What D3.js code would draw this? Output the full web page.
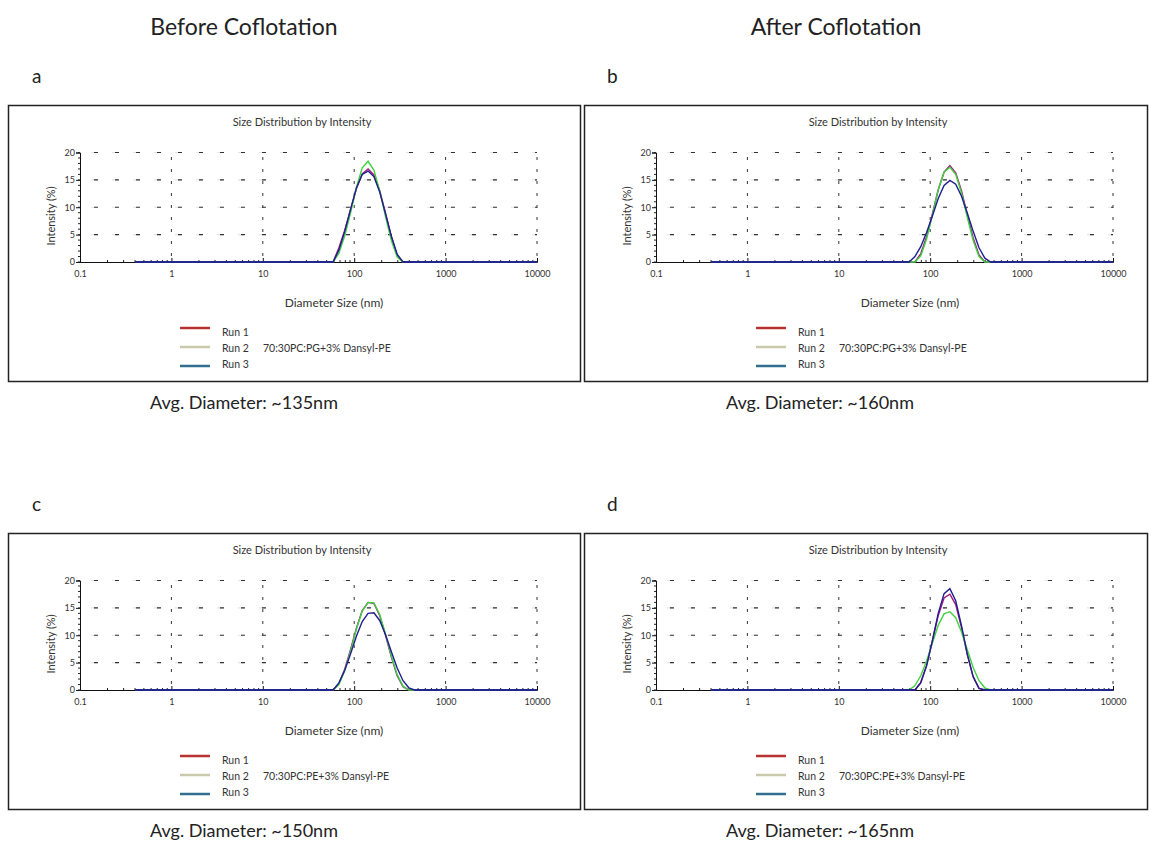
<!DOCTYPE html>
<html>
<head>
<meta charset="utf-8">
<script src="https://cdn.jsdelivr.net/npm/d3@7"></script>
<style>
  body { margin: 0; background: #fff; }
  svg { font-family: Lato, "Open Sans", sans-serif; }
</style>
</head>
<body>
<svg id="chart" width="1149" height="845"></svg>
<script>
// size bins (nm), zero bins kept at both ends for the baseline
var sizes = [0.4, 50.75, 58.77, 68.06, 78.82, 91.28, 105.7, 122.4, 141.8, 164.2, 190.1, 220.2, 255.0, 295.3, 342.0, 396.1, 458.7, 531.2, 10000];

// panel a - before coflotation, PC:PG
var aRun1 = [0, 0, 0, 2.6, 5.8, 9.6, 13.4, 16.1, 17.0, 15.9, 13.0, 8.9, 4.6, 1.2, 0, 0, 0, 0, 0];
var aRun2 = [0, 0, 0, 1.6, 4.8, 9.0, 13.6, 17.2, 18.4, 16.8, 13.0, 8.3, 3.9, 0.9, 0, 0, 0, 0, 0];
var aRun3 = [0, 0, 0, 2.2, 5.6, 9.6, 13.5, 16.0, 16.6, 15.6, 12.8, 8.8, 4.7, 1.4, 0, 0, 0, 0, 0];
// panel b - after coflotation, PC:PG
var bRun1 = [0, 0, 0, 0, 1.5, 4.6, 8.8, 13.2, 16.4, 17.6, 16.3, 13.0, 8.6, 4.4, 1.3, 0, 0, 0, 0];
var bRun2 = [0, 0, 0, 0, 1.1, 4.2, 8.6, 13.2, 16.4, 17.3, 16.0, 12.6, 8.1, 3.9, 1.0, 0, 0, 0, 0];
var bRun3 = [0, 0, 0, 1.0, 2.8, 5.4, 8.4, 11.6, 14.0, 14.9, 14.2, 12.0, 8.9, 5.6, 2.6, 0.7, 0, 0, 0];
// panel c - before coflotation, PC:PE
var cRun1 = [0, 0, 0, 1.2, 3.8, 7.4, 11.3, 14.5, 16.0, 15.8, 13.6, 10.0, 6.0, 2.6, 0.6, 0, 0, 0, 0];
var cRun2 = [0, 0, 0, 1.0, 3.5, 7.1, 11.1, 14.4, 16.0, 15.9, 13.8, 10.2, 6.2, 2.8, 0.7, 0, 0, 0, 0];
var cRun3 = [0, 0, 0, 1.3, 3.6, 6.6, 9.8, 12.5, 14.0, 14.1, 12.7, 10.1, 7.0, 4.0, 1.7, 0.4, 0, 0, 0];
// panel d - after coflotation, PC:PE
var dRun1 = [0, 0, 0, 0, 1.4, 4.5, 9.0, 13.6, 16.8, 17.5, 15.6, 11.4, 6.4, 2.4, 0.3, 0, 0, 0, 0];
var dRun2 = [0, 0, 0, 0.8, 2.6, 5.3, 8.6, 11.8, 13.9, 14.3, 13.2, 10.6, 7.3, 4.1, 1.7, 0.4, 0, 0, 0];
var dRun3 = [0, 0, 0, 0, 1.3, 4.4, 9.0, 14.0, 17.6, 18.5, 16.3, 11.7, 6.5, 2.4, 0.3, 0, 0, 0, 0];

var panelLetters = ["a", "b", "c", "d"];
var sampleNames = ["70:30PC:PG+3% Dansyl-PE", "70:30PC:PG+3% Dansyl-PE", "70:30PC:PE+3% Dansyl-PE", "70:30PC:PE+3% Dansyl-PE"];
var avgLabels = ["Avg. Diameter: ~135nm", "Avg. Diameter: ~160nm", "Avg. Diameter: ~150nm", "Avg. Diameter: ~165nm"];
var columnTitles = ["Before Coflotation", "After Coflotation"];
var runNames = ["Run 1", "Run 2", "Run 3"];
var xTicks = [0.1, 1, 10, 100, 1000, 10000];
var yTicks = [0, 5, 10, 15, 20];

var panelRuns = [[aRun1, aRun2, aRun3], [bRun1, bRun2, bRun3], [cRun1, cRun2, cRun3], [dRun1, dRun2, dRun3]];

// colours: curve colours and legend swatch colours
var curveColors = ["#a3177f", "#3fd23f", "#1f1f8f"];
var legendColors = ["#b83232", "#c9c9ad", "#33708f"];

var svg = d3.select("#chart");

// column headings
var colX = [244, 836];
columnTitles.forEach(function(t, i) {
  svg.append("text").attr("x", colX[i]).attr("y", 35).attr("text-anchor", "middle")
    .style("font-size", "23px").style("fill", "#222").text(t);
});

// where each panel sits
var offsets = [[0, 0], [576, 0], [0, 428], [576, 428]];

offsets.forEach(function(off, p) {
  var g = svg.append("g").attr("transform", "translate(" + off[0] + "," + off[1] + ")");
  var boxW = p % 2 === 0 ? 572 : 563;

  g.append("text").attr("x", p % 2 === 0 ? 32 : 31).attr("y", 83)
    .style("font-size", "19px").style("fill", "#222").text(panelLetters[p]);

  g.append("rect").attr("x", 8.5).attr("y", 105.5).attr("width", boxW).attr("height", 276)
    .attr("fill", "none").attr("stroke", "#222").attr("stroke-width", 1.5);

  var x = d3.scaleLog().domain([0.1, 10000]).range([80, 537]);
  var y = d3.scaleLinear().domain([0, 20]).range([262, 152.5]);

  g.append("text").attr("x", 302).attr("y", 126).attr("text-anchor", "middle")
    .style("font-size", "11px").style("fill", "#333").text("Size Distribution by Intensity");

  // dotted grid: faint ghost dashes plus dark dashes
  var hGrid = g.append("g");
  [["#e4e4e4", "6,15", 11], ["#333", "4,17", 14]].forEach(function(s) {
    hGrid.selectAll(null).data(yTicks.slice(1)).enter().append("line")
      .attr("x1", x(0.1) + s[2]).attr("x2", x(10000)).attr("y1", d => y(d)).attr("y2", d => y(d))
      .attr("stroke", s[0]).attr("stroke-width", 1.2).attr("stroke-dasharray", s[1]);
  });
  g.append("g").selectAll("line").data(xTicks.slice(1)).enter().append("line")
    .attr("x1", d => x(d)).attr("x2", d => x(d)).attr("y1", y(0) - 6).attr("y2", y(20))
    .attr("stroke", "#333").attr("stroke-width", 1).attr("stroke-dasharray", "3,9");

  // axes
  var yAxis = d3.axisLeft(y).tickValues(yTicks).tickSize(4).tickPadding(1).tickFormat(d3.format("d"));
  var ya = g.append("g").attr("transform", "translate(" + x(0.1) + ",0)").call(yAxis);
  ya.append("g").selectAll("line").data(d3.range(0, 21)).enter().append("line")
    .attr("x1", -2).attr("x2", 0).attr("y1", d => y(d)).attr("y2", d => y(d)).attr("stroke", "#222");

  var xAxis = d3.axisBottom(x).tickValues(xTicks).tickSize(-4).tickPadding(9).tickFormat(d => String(d));
  var xa = g.append("g").attr("transform", "translate(0," + y(0) + ")").call(xAxis);
  var minor = x.ticks().filter(function(v) { return xTicks.indexOf(v) < 0; });
  xa.append("g").selectAll("line").data(minor).enter().append("line")
    .attr("x1", d => x(d)).attr("x2", d => x(d)).attr("y1", 0).attr("y2", -2).attr("stroke", "#222");

  [ya, xa].forEach(function(a) {
    a.selectAll(".domain").attr("stroke", "#111");
    a.selectAll(".tick line").attr("stroke", "#111");
    a.selectAll("text").style("font-size", "9px").style("fill", "#333").style("font-family", "Lato, sans-serif");
  });

  g.append("text").attr("transform", "translate(55,216) rotate(-90)").attr("text-anchor", "middle")
    .style("font-size", "11px").style("fill", "#333").text("Intensity (%)");
  g.append("text").attr("x", 334).attr("y", 307).attr("text-anchor", "middle")
    .style("font-size", "12px").style("fill", "#333").text("Diameter Size (nm)");

  // curves
  var line = d3.line().x((d, i) => x(sizes[i])).y(d => y(d));
  panelRuns[p].forEach(function(run, r) {
    g.append("path").datum(run).attr("d", line).attr("fill", "none")
      .attr("stroke", curveColors[r]).attr("stroke-width", 1.4);
  });
  // run 3 baseline sits on top
  g.append("path").datum(panelRuns[p][2].map(v => v === 0 ? 0 : null))
    .attr("d", line.defined(d => d !== null)).attr("fill", "none")
    .attr("stroke", curveColors[2]).attr("stroke-width", 1.4);

  // legend
  var legY = [328, 347, 366];
  var txtY = [336, 352, 368];
  runNames.forEach(function(n, r) {
    g.append("line").attr("x1", 180).attr("x2", 210).attr("y1", legY[r]).attr("y2", legY[r])
      .attr("stroke", legendColors[r]).attr("stroke-width", 2.5);
    g.append("text").attr("x", 222).attr("y", txtY[r]).style("font-size", "10.5px").style("fill", "#333").text(n);
  });
  g.append("text").attr("x", 263).attr("y", txtY[1]).style("font-size", "10.5px").style("fill", "#333").text(sampleNames[p]);

  g.append("text").attr("x", 244).attr("y", 409).attr("text-anchor", "middle")
    .style("font-size", "18px").style("fill", "#222").text(avgLabels[p]);
});
</script>
</body>
</html>
